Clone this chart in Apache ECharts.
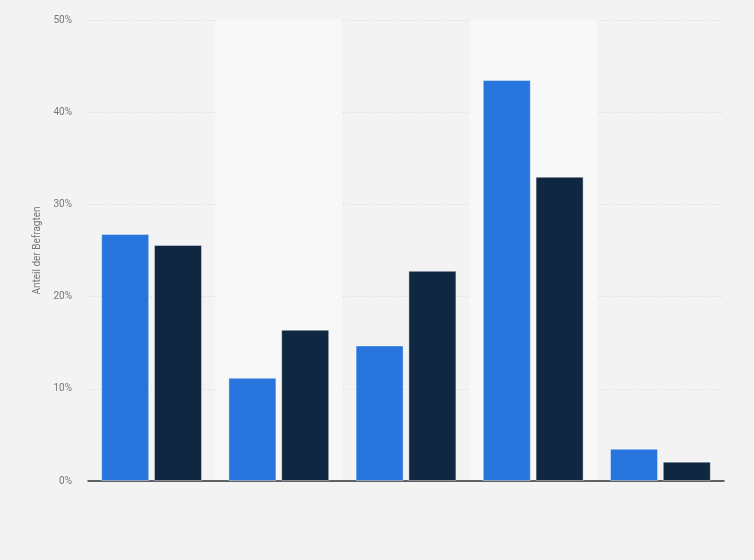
<!DOCTYPE html>
<html>
<head>
<meta charset="utf-8">
<script src="https://cdn.jsdelivr.net/npm/echarts@6/dist/echarts.min.js"></script>
<style>
html,body{margin:0;padding:0;background:#f3f3f3;}
#c{width:754px;height:560px;}
</style>
</head>
<body>
<div id="c"></div>
<script>
const categories = ['A', 'B', 'C', 'D', 'E'];
const series1Values = [26.8, 11.2, 14.7, 43.5, 3.5];
const series2Values = [25.6, 16.4, 22.8, 33.0, 2.1];
const yTicks = [0, 10, 20, 30, 40, 50];

const chart = echarts.init(document.getElementById('c'), null, {renderer: 'canvas'});
chart.setOption({
  backgroundColor: '#f3f3f3',
  animation: false,
  grid: {left: 88, right: 30, top: 20, bottom: 79, containLabel: false},
  xAxis: {
    type: 'category',
    data: categories,
    axisLine: {show: true, lineStyle: {color: '#333', width: 1.5}},
    axisTick: {show: false},
    axisLabel: {show: false},
    splitLine: {show: false},
    splitArea: {show: true, areaStyle: {color: ['rgba(0,0,0,0)', '#f8f8f8']}}
  },
  yAxis: {
    type: 'value',
    min: yTicks[0],
    max: yTicks[yTicks.length - 1],
    interval: 10,
    name: 'Anteil der Befragten',
    nameLocation: 'middle',
    nameGap: 44,
    nameTextStyle: {color: '#777', fontSize: 10, fontFamily: 'Roboto, Arial, sans-serif'},
    axisLine: {show: false},
    axisTick: {show: false},
    axisLabel: {
      color: '#777', fontSize: 10, fontFamily: 'Roboto, Arial, sans-serif', margin: 16,
      formatter: v => v + '%'
    },
    splitLine: {lineStyle: {color: '#d8d8d8', type: [1, 2], width: 1}}
  },
  series: [
    {
      type: 'bar', data: series1Values, barWidth: 48, barGap: '10%',
      itemStyle: {color: '#2876dd', borderColor: 'rgba(255,255,255,0.4)', borderWidth: 1}
    },
    {
      type: 'bar', data: series2Values, barWidth: 48, barGap: '10%',
      itemStyle: {color: '#0f2740', borderColor: 'rgba(255,255,255,0.4)', borderWidth: 1}
    }
  ]
});
</script>
</body>
</html>
